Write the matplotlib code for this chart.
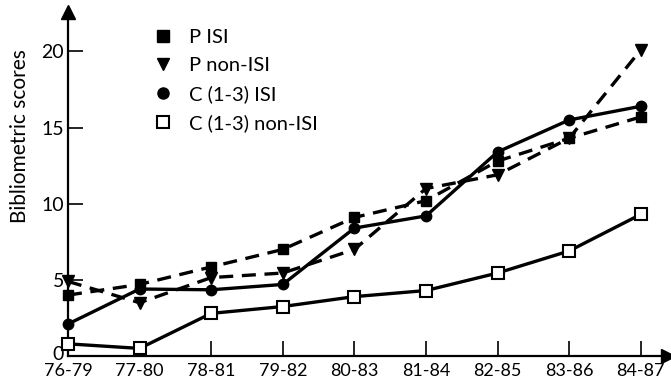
import matplotlib
matplotlib.use("Agg")
import matplotlib.pyplot as plt
from matplotlib.lines import Line2D
import matplotlib.transforms as mtransforms

plt.rcParams['font.family'] = ['Lato', 'DejaVu Sans']

periods = ["76-79", "77-80", "78-81", "79-82", "80-83", "81-84", "82-85", "83-86", "84-87"]
p_isi = [4.0, 4.7, 5.85, 7.0, 9.1, 10.2, 12.8, 14.3, 15.7]
p_non_isi = [4.9, 3.5, 5.15, 5.45, 7.0, 11.0, 11.9, 14.3, 20.1]
c_isi = [2.1, 4.4, 4.35, 4.7, 8.4, 9.2, 13.4, 15.5, 16.4]
c_non_isi = [0.8, 0.5, 2.8, 3.25, 3.9, 4.3, 5.45, 6.9, 9.3]
labels = ["P ISI", "P non-ISI", "C (1-3) ISI", "C (1-3) non-ISI"]
yticks = [0, 5, 10, 15, 20]

fig = plt.figure(figsize=(6.71, 3.82), dpi=100)
ax = fig.add_axes([0.1013, 0.068, 0.8942, 0.901])

x = list(range(len(periods)))
lw = 2.4
dash = (4.2, 2.6)
ax.plot(x, p_isi, color='black', lw=lw, linestyle=(0, dash), marker='s', ms=7.5,
        mfc='black', mec='black', clip_on=False, zorder=3)
ax.plot(x, p_non_isi, color='black', lw=lw, linestyle=(0, dash), marker='v', ms=8.5,
        mfc='black', mec='black', clip_on=False, zorder=3)
ax.plot(x, c_isi, color='black', lw=lw, linestyle='-', marker='o', ms=7.5,
        mfc='black', mec='black', clip_on=False, zorder=3)
ax.plot(x, c_non_isi, color='black', lw=lw, linestyle='-', marker='s', ms=8,
        mfc='white', mec='black', mew=1.5, clip_on=False, zorder=4)

ax.set_xlim(0, 8.38)
ax.set_ylim(0, 22.6)
ax.set_xticks(x)
ax.set_xticklabels(periods, fontsize=13)
ax.set_yticks(yticks)
ax.set_yticklabels([str(v) for v in yticks], fontsize=14)
ax.tick_params(axis='x', direction='in', length=11, width=1.2, pad=5)
ax.tick_params(axis='y', direction='in', length=11, width=1.2, pad=3)

# nudge the "0" label up slightly, as in the reference
zero_lbl = ax.get_yticklabels()[0]
zero_lbl.set_transform(zero_lbl.get_transform() +
                       mtransforms.ScaledTranslation(0, 3 / 100, fig.dpi_scale_trans))

for s in ['top', 'right']:
    ax.spines[s].set_visible(False)
for s in ['left', 'bottom']:
    ax.spines[s].set_linewidth(1.6)

ax.plot([1], [0], marker='>', ms=10, color='black', transform=ax.transAxes, clip_on=False)
ax.plot([0], [1], marker='^', ms=10, color='black', transform=ax.transAxes, clip_on=False)

ax.set_ylabel("Bibliometric scores", fontsize=15)
ax.yaxis.set_label_coords(-0.063, 0.64)

handles = [
    Line2D([], [], linestyle='none', marker='s', ms=8, mfc='black', mec='black'),
    Line2D([], [], linestyle='none', marker='v', ms=9, mfc='black', mec='black'),
    Line2D([], [], linestyle='none', marker='o', ms=8, mfc='black', mec='black'),
    Line2D([], [], linestyle='none', marker='s', ms=8, mfc='white', mec='black', mew=1.5),
]
leg = ax.legend(handles, labels, loc='upper left', bbox_to_anchor=(0.121, 0.985),
                frameon=False, fontsize=14.5, labelspacing=0.55, handlelength=1.0,
                handletextpad=0.8, borderpad=0.1)

fig.savefig("out.png", dpi=100)
